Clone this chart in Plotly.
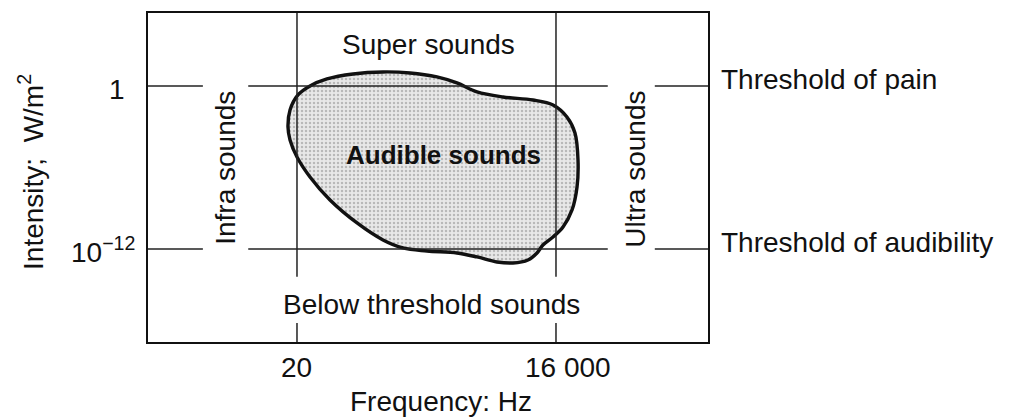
import numpy as np
import plotly.graph_objects as go

# Outline of the audible region: log10(frequency / Hz), log10(intensity / W m^-2)
region_log_freq = [1.200, 1.223, 1.312, 1.447, 1.637, 1.929, 2.265, 2.568, 2.870,
                   3.094, 3.319, 3.610, 3.946, 4.171, 4.327, 4.417, 4.451, 4.440,
                   4.384, 4.283, 4.171, 4.058, 3.991, 3.890, 3.722, 3.543, 3.319,
                   3.094, 2.758, 2.489, 2.265, 1.974, 1.671, 1.447, 1.301, 1.223]
region_log_intensity = [-3.018, -1.767, -0.663, 0.000, 0.515, 0.883, 1.031, 0.957, 0.663,
                        0.221, -0.442, -0.810, -1.031, -1.399, -2.282, -3.460, -5.448, -7.436,
                        -9.129, -10.380, -11.117, -11.706, -12.295, -12.810, -13.031, -12.957, -12.589,
                        -12.295, -12.147, -11.926, -11.337, -10.086, -8.393, -6.699, -5.227, -3.975]

# Frequency limits of hearing (Hz)
freq_limits = [20, 16000]
freq_tick_labels = ["20", "16 000"]

# Intensity thresholds (W/m^2)
intensity_levels = [1, 1e-12]
intensity_tick_labels = ["1", "10<sup>−12</sup>"]
threshold_labels = ["Threshold of pain", "Threshold of audibility"]

x_range = [-0.369, 5.908]     # log10 Hz
y_range = [-18.85, 5.37]      # log10 W/m^2

FONT = "Liberation Sans, Arial, sans-serif"
FS = 28
INK = "#111111"

fx = [10 ** v for v in region_log_freq]
fy = [10 ** v for v in region_log_intensity]
fx.append(fx[0])
fy.append(fy[0])

fig = go.Figure()

# shaded interior
fig.add_trace(go.Scatter(
    x=fx, y=fy, mode="lines", fill="toself",
    line=dict(width=0, shape="spline", smoothing=1.0, color="rgba(0,0,0,0)"),
    fillcolor="#e6e6e6",
    fillpattern=dict(shape=".", size=4, solidity=0.3, fgcolor="#8a8a8a", bgcolor="#e8e8e8"),
    hoverinfo="skip", showlegend=False,
))

# reference lines (broken where the side labels sit)
line_style = dict(color="#222222", width=1.5)
shapes = []
for lvl in intensity_levels:
    for a, b in [(0.0, 0.098), (0.179, 0.821), (0.905, 1.0)]:
        shapes.append(dict(type="line", xref="paper", yref="y", x0=a, x1=b,
                           y0=lvl, y1=lvl, line=line_style, layer="above"))
for f in freq_limits:
    for a, b in [(0.198, 1.0), (0.0, 0.058)]:
        shapes.append(dict(type="line", xref="x", yref="paper", x0=f, x1=f,
                           y0=a, y1=b, line=line_style, layer="above"))

# outline of the audible region
fig.add_trace(go.Scatter(
    x=fx, y=fy, mode="lines",
    line=dict(width=3.4, shape="spline", smoothing=1.0, color=INK),
    hoverinfo="skip", showlegend=False,
))

ann = []
def txt(text, x, y, xref="paper", yref="paper", size=FS, **kw):
    ann.append(dict(text=text, x=x, y=y, xref=xref, yref=yref, showarrow=False,
                    font=dict(family=FONT, size=size, color=INK), **kw))

# tick labels
txt(intensity_tick_labels[0], -0.0375, np.log10(intensity_levels[0]), yref="y",
    xanchor="right", yanchor="middle", yshift=-4)
txt(intensity_tick_labels[1], -0.0196, np.log10(intensity_levels[1]), yref="y",
    xanchor="right", yanchor="middle", yshift=-1)
txt(freq_tick_labels[0], np.log10(freq_limits[0]), -0.079, xref="x",
    xanchor="center", yanchor="middle")
txt(freq_tick_labels[1], np.log10(freq_limits[1]), -0.079, xref="x",
    xanchor="center", yanchor="middle", xshift=12)

# axis titles
txt("Frequency: Hz", 0.523, -0.234, xanchor="center", yanchor="bottom")
txt("Intensity;  W/m<sup>2</sup>", -0.209, 0.5167, xanchor="center", yanchor="middle",
    textangle=-90)

# region labels
txt("Super sounds", 0.5, 0.903, xanchor="center", yanchor="middle")
txt("Below threshold sounds", 0.507, 0.1125, xanchor="center", yanchor="middle")
txt("Infra sounds", 0.139, 0.529, xanchor="center", yanchor="middle", textangle=-90)
txt("Ultra sounds", 0.871, 0.526, xanchor="center", yanchor="middle", textangle=-90)
txt("<b>Audible sounds</b>", 0.527, 0.568, size=26, xanchor="center", yanchor="middle")

# threshold names to the right of the frame
for lvl, name in zip(intensity_levels, threshold_labels):
    txt(name, 1.0196, np.log10(lvl), yref="y", xanchor="left", yanchor="middle", yshift=6)

axis_common = dict(type="log", showgrid=False, zeroline=False, showticklabels=False,
                   ticks="", showline=True, mirror=True, linecolor=INK, linewidth=2)

fig.update_layout(
    width=1009, height=419,
    margin=dict(l=148, r=301, t=13, b=77),
    paper_bgcolor="white", plot_bgcolor="white",
    xaxis=dict(range=x_range, **axis_common),
    yaxis=dict(range=y_range, **axis_common),
    shapes=shapes, annotations=ann,
    showlegend=False,
)

fig.write_html("out.html")
